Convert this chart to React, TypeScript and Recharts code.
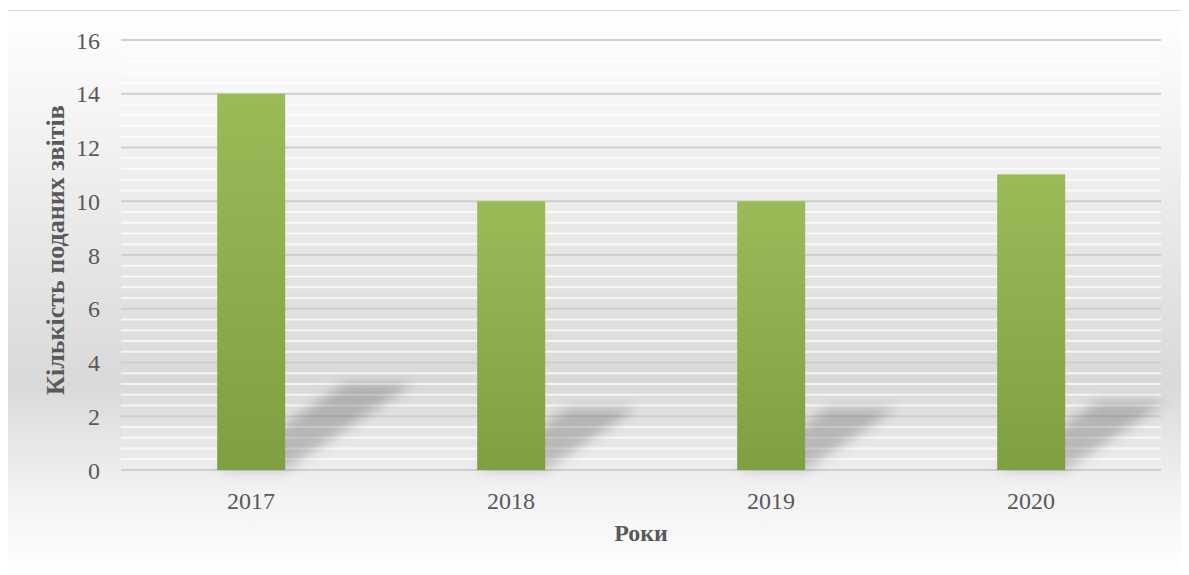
import { BarChart, Bar, XAxis, YAxis, CartesianGrid, Label } from "recharts"

const years = ["2017", "2018", "2019", "2020"]
const reports = [14, 10, 10, 11]
const majorTicks = [0, 2, 4, 6, 8, 10, 12, 14, 16]
const minorTicks = [
  0.4, 0.8, 1.2, 1.6, 2.4, 2.8, 3.2, 3.6, 4.4, 4.8, 5.2, 5.6, 6.4, 6.8, 7.2, 7.6,
  8.4, 8.8, 9.2, 9.6, 10.4, 10.8, 11.2, 11.6, 12.4, 12.8, 13.2, 13.6, 14.4, 14.8, 15.2, 15.6,
]

const data = years.map((y, i) => ({ year: y, value: reports[i] }))

const FONT = "'Liberation Serif', 'Times New Roman', serif"
const TEXT = "#595959"

// bar with a soft skewed shadow falling to the right
const ShadowBar = (props: any) => {
  const { x, y, width, height } = props
  if (!height) return null
  const base = y + height
  const dx = height * 0.34
  const dy = height * 0.23
  const pts = [
    [x, base], [x + width, base], [x + width + dx, base - dy], [x + dx, base - dy],
  ].map(p => p.join(",")).join(" ")
  return (
    <g>
      <polygon points={pts} fill="rgba(0,0,0,0.2)" filter="url(#soft)" />
      <rect x={x} y={y} width={width} height={height} fill="url(#barFill)" />
    </g>
  )
}

export default function App() {
  return (
    <div style={{
      marginLeft: -1, marginTop: 2, width: 1180, height: 565,
      border: "1px solid #d9d9d9", borderBottom: "none",
      background: "linear-gradient(to bottom, #ffffff 0%, #d9d9d9 66%, #f2f2f2 85%, #ffffff 100%)",
      fontFamily: FONT,
    }}>
      <BarChart width={1180} height={565} data={data}
        margin={{ top: 29, right: 27, left: 0, bottom: 0 }} barCategoryGap="37%">
        <defs>
          <linearGradient id="barFill" x1="0" y1="0" x2="0" y2="1">
            <stop offset="0%" stopColor="#9bbb59" />
            <stop offset="100%" stopColor="#7fa040" />
          </linearGradient>
          <filter id="soft" x="-30%" y="-30%" width="160%" height="160%">
            <feGaussianBlur stdDeviation="6" />
          </filter>
        </defs>
        {/* minor grid (white) then major grid (grey) */}
        <CartesianGrid vertical={false} horizontalValues={minorTicks} stroke="rgba(255,255,255,0.7)" strokeWidth={2} />
        <CartesianGrid vertical={false} horizontalValues={majorTicks} stroke="#cfcfcf" strokeWidth={2} />
        <XAxis dataKey="year" height={106} axisLine={false} tickLine={false} tickSize={0} tickMargin={22}
          tick={{ fill: TEXT, fontSize: 24, fontFamily: FONT }}>
          <Label content={({ viewBox }: any) => (
            <text x={viewBox.x + viewBox.width / 2} y={533 - 11} textAnchor="middle" dominantBaseline="central"
              fill={TEXT} fontSize={24} fontWeight="bold" fontFamily={FONT}>Роки</text>
          )} />
        </XAxis>
        <YAxis domain={[0, 16]} ticks={majorTicks} width={113} axisLine={false} tickLine={false} tickSize={0}
          tickMargin={21} interval={0} tick={{ fill: TEXT, fontSize: 24, fontFamily: FONT }}>
          <Label content={() => (
            <text x={0} y={0} transform={`translate(${55 - 8}, ${250 - 11}) rotate(-90)`} textAnchor="middle"
              dominantBaseline="central" fill={TEXT} fontSize={26} fontWeight="bold" fontFamily={FONT}>
              Кількість поданих звітів
            </text>
          )} />
        </YAxis>
        <Bar dataKey="value" shape={ShadowBar} isAnimationActive={false} />
      </BarChart>
    </div>
  )
}
